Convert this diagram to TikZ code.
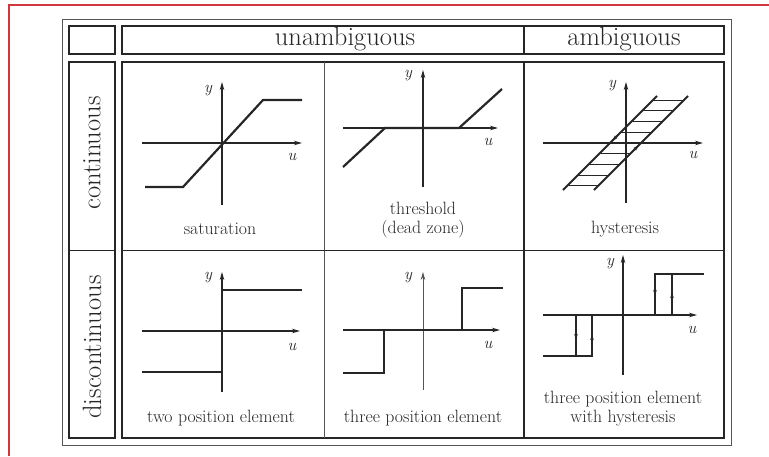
\documentclass[tikz,border=0pt]{standalone}
\usepackage{xcolor}
\usepackage{tikz}
\usetikzlibrary{arrows.meta, positioning}

\definecolor{ink}{HTML}{262626}
\definecolor{rim}{HTML}{555555}
\definecolor{framered}{HTML}{D2363E}

\begin{document}
\begin{tikzpicture}[x=1pt, y=-1pt,
    box/.style={rectangle, draw=ink, line width=1.8pt, inner sep=0pt, align=center},
    head/.style={font=\fontsize{26.5}{30}\selectfont, text=ink},
    caption/.style={font=\fontsize{17.8}{19}\selectfont, text=ink, align=center},
    lab/.style={font=\fontsize{16.5}{18}\selectfont\itshape, text=ink, inner sep=0pt},
    axis/.style={draw=ink, line width=1.1pt, -{Stealth[length=8pt, width=4.5pt]}},
    curve/.style={draw=ink, line width=2.2pt},
    rung/.style={draw=ink, line width=1pt},
    midtip/.style={draw=ink, line width=1.2pt, -{Stealth[length=6pt, width=3.5pt]}},
]
    \useasboundingbox (0,0) rectangle (769,456);

    % Page edge
    \draw[framered, line width=2pt] (9,456) -- (9,5) -- (769,5);

    % Frames
    \node[rectangle, draw=rim, line width=0.9pt, minimum width=669, minimum height=426] (outer) at (396.5,232) {};
    \node[box, minimum width=46, minimum height=28] (corner) at (92,40) {};
    \node[box, minimum width=602, minimum height=28] (header) at (423,40) {};
    \node[box, minimum width=46, minimum height=376] (side) at (92,250) {};
    \node[box, minimum width=602, minimum height=376] (main) at (423,250) {};
    \draw[ink, line width=1.3pt] (524,26) -- (524,54);
    \draw[ink, line width=1.3pt] (524,62) -- (524,438);
    \draw[rim, line width=0.8pt] (324,62) -- (324,438);
    \draw[ink, line width=0.9pt] (122,250) -- (724,250);
    \draw[ink, line width=0.9pt] (69,250) -- (115,250);

    % Headers
    \node[head] (unamb) at (345,39) {unambiguous};
    \node[head] (amb) at (624,39) {ambiguous};
    \node[head, rotate=90] (cont) at (92,153) {continuous};
    \node[head, rotate=90] (discont) at (92,347) {discontinuous};

    % Saturation
    \begin{scope}[shift={(222,143)}]
        \draw[axis] (-80,0) -- (80,0);
        \draw[axis] (0,62) -- (0,-61);
        \draw[curve] (-77,44) -- (-39,44) -- (41,-43) -- (80,-43);
        \node[lab] (y1) at (-14,-52) {y};
        \node[lab] (u1) at (70,14) {u};
    \end{scope}
    \node[caption] (sat) at (220,229) {saturation};

    % Threshold
    \begin{scope}[shift={(423,128)}]
        \draw[axis] (-80,0) -- (75,0);
        \draw[axis] (0,59) -- (0,-58);
        \draw[curve] (-80,39) -- (-38,0) -- (36,0) -- (79,-39);
        \node[lab] (y2) at (-15,-52) {y};
        \node[lab] (u2) at (65,14) {u};
    \end{scope}
    \node[caption] (thr) at (423,220) {threshold\\(dead zone)};

    % Hysteresis
    \begin{scope}[shift={(626,143)}]
        \draw[axis] (-83,0) -- (77,0);
        \draw[axis] (0,60) -- (0,-61);
        \draw[curve, line width=1.8pt] (-63,47) -- (31,-47);
        \draw[curve, line width=1.8pt] (-32,47) -- (62,-47);
        \foreach \h in {-42.8,-32.1,-21.4,-10.7,10.7,21.4,32.1,42.8}
            \draw[rung] ({-16-(\h)},\h) -- ({15-(\h)},\h);
        \draw[midtip] (-8,-8) -- (-14,-2);
        \draw[midtip] (6,9) -- (13,2);
        \node[lab] (y3) at (-14,-57) {y};
        \node[lab] (u3) at (67,12) {u};
    \end{scope}
    \node[caption] (hys) at (625,229) {hysteresis};

    % Two position element
    \begin{scope}[shift={(222,331)}]
        \draw[axis] (-80,0) -- (78,0);
        \draw[axis] (0,61) -- (0,-59);
        \draw[curve] (-80,41) -- (0,41) -- (0,-41) -- (80,-41);
        \node[lab] (y4) at (-14,-53) {y};
        \node[lab] (u4) at (70,16) {u};
    \end{scope}
    \node[caption] (twopos) at (221,418) {two position element};

    % Three position element
    \begin{scope}[shift={(423,330)}]
        \draw[axis] (-80,0) -- (77,0);
        \draw[axis, draw=rim, line width=0.8pt] (0,60) -- (0,-58);
        \draw[curve] (-80,43) -- (-39,43) -- (-39,0) -- (39,0) -- (39,-42) -- (80,-42);
        \node[lab] (y5) at (-15,-52) {y};
        \node[lab] (u5) at (65,15) {u};
    \end{scope}
    \node[caption] (threepos) at (423,418) {three position element};

    % Three position element with hysteresis
    \begin{scope}[shift={(623,315)}]
        \draw[axis] (-80,0) -- (74,0);
        \draw[axis] (0,60) -- (0,-60);
        \draw[curve] (-80,41) -- (-31,41) -- (-31,0);
        \draw[curve] (-47,41) -- (-47,0) -- (49,0) -- (49,-41);
        \draw[curve] (32,0) -- (32,-41) -- (81,-41);
        \draw[midtip] (-47,14) -- (-47,25);
        \draw[midtip] (-31,30) -- (-31,19);
        \draw[midtip] (32,-30) -- (32,-19);
        \draw[midtip] (49,-12) -- (49,-23);
        \node[lab] (y6) at (-13,-51) {y};
        \node[lab] (u6) at (69,15) {u};
    \end{scope}
    \node[caption] (hyspos) at (623,409) {three position element\\with hysteresis};

\end{tikzpicture}
\end{document}
